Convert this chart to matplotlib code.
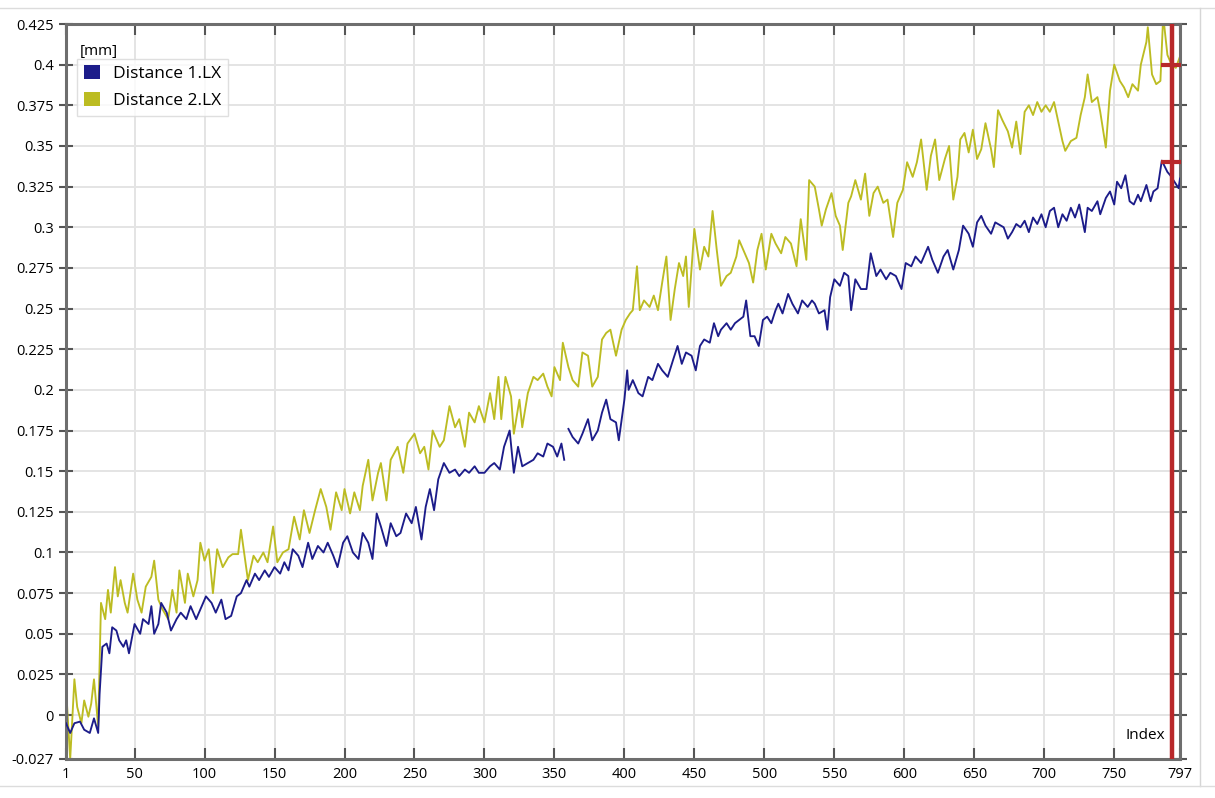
import numpy as np
import matplotlib
matplotlib.use("Agg")
import matplotlib.pyplot as plt
from matplotlib.patches import Patch

# values (index, mm)
idx_2 = [1, 4, 6, 7, 9, 12, 14, 17, 19, 21, 24, 26, 29, 31, 33, 36, 38, 40, 43, 45,
         49, 52, 55, 58, 62, 64, 67, 70, 74, 77, 80, 82, 86, 88, 92, 95, 97, 100, 103, 106,
         109, 113, 117, 120, 124, 126, 131, 135, 138, 142, 145, 149, 152, 156, 160, 164, 168, 171, 175, 179,
         183, 187, 190, 194, 198, 200, 204, 207, 211, 213, 217, 220, 224, 226, 230, 233, 238, 242, 245, 250,
         254, 257, 260, 263, 268, 271, 275, 279, 282, 286, 289, 293, 296, 300, 304, 307, 310, 312, 315, 319,
         321, 325, 327, 331, 335, 338, 342, 345, 348, 350, 354, 356, 360, 363, 367, 370, 374, 377, 381, 384,
         387, 390, 394, 398, 401, 404, 406, 409, 411, 414, 418, 421, 424, 427, 430, 433, 436, 439, 442, 444,
         446, 450, 454, 457, 460, 463, 466, 469, 473, 476, 480, 482, 485, 489, 492, 495, 498, 501, 505, 508,
         512, 515, 519, 523, 526, 530, 532, 536, 539, 541, 544, 548, 551, 554, 556, 560, 562, 565, 569, 572,
         575, 578, 581, 585, 588, 592, 595, 599, 602, 606, 609, 612, 616, 619, 622, 625, 629, 632, 635, 638,
         640, 643, 646, 649, 652, 655, 658, 662, 664, 667, 670, 674, 677, 680, 683, 686, 689, 692, 695, 698,
         701, 704, 707, 710, 713, 715, 719, 723, 726, 729, 731, 734, 738, 740, 744, 747, 750, 754, 757, 760,
         763, 767, 769, 773, 774, 777, 780, 783, 785, 788, 791, 794, 797]
dist_2 = [0.017, -0.027, 0.005, 0.022, 0.005, -0.005, 0.009, -0.001, 0.007, 0.022, -0.007, 0.069, 0.059, 0.077, 0.063, 0.091, 0.073, 0.083, 0.069, 0.063,
          0.087, 0.071, 0.063, 0.079, 0.085, 0.095, 0.071, 0.065, 0.059, 0.077, 0.063, 0.089, 0.069, 0.087, 0.073, 0.083, 0.106, 0.095, 0.102, 0.075,
          0.102, 0.091, 0.097, 0.099, 0.099, 0.114, 0.083, 0.098, 0.094, 0.100, 0.094, 0.116, 0.094, 0.100, 0.102, 0.122, 0.108, 0.126, 0.112, 0.126,
          0.139, 0.128, 0.114, 0.137, 0.126, 0.139, 0.124, 0.137, 0.126, 0.141, 0.157, 0.132, 0.149, 0.155, 0.132, 0.157, 0.165, 0.149, 0.167, 0.173,
          0.161, 0.165, 0.151, 0.175, 0.165, 0.169, 0.190, 0.177, 0.182, 0.165, 0.186, 0.180, 0.190, 0.180, 0.198, 0.182, 0.208, 0.182, 0.208, 0.196,
          0.173, 0.194, 0.177, 0.198, 0.208, 0.206, 0.210, 0.202, 0.196, 0.214, 0.206, 0.229, 0.214, 0.206, 0.202, 0.223, 0.221, 0.202, 0.208, 0.231,
          0.235, 0.237, 0.221, 0.237, 0.243, 0.247, 0.249, 0.276, 0.249, 0.255, 0.251, 0.258, 0.249, 0.266, 0.282, 0.243, 0.262, 0.278, 0.270, 0.282,
          0.251, 0.299, 0.274, 0.288, 0.282, 0.310, 0.286, 0.264, 0.270, 0.272, 0.282, 0.292, 0.286, 0.278, 0.266, 0.286, 0.296, 0.274, 0.296, 0.290,
          0.284, 0.294, 0.290, 0.276, 0.305, 0.280, 0.329, 0.325, 0.311, 0.301, 0.311, 0.321, 0.307, 0.301, 0.286, 0.315, 0.319, 0.329, 0.317, 0.333,
          0.307, 0.321, 0.325, 0.315, 0.317, 0.294, 0.315, 0.323, 0.340, 0.331, 0.340, 0.354, 0.323, 0.344, 0.354, 0.329, 0.342, 0.350, 0.317, 0.331,
          0.354, 0.358, 0.346, 0.360, 0.342, 0.348, 0.364, 0.348, 0.337, 0.372, 0.366, 0.359, 0.349, 0.365, 0.345, 0.371, 0.375, 0.369, 0.377, 0.371,
          0.375, 0.371, 0.377, 0.365, 0.353, 0.347, 0.353, 0.355, 0.369, 0.380, 0.394, 0.377, 0.380, 0.371, 0.349, 0.384, 0.400, 0.390, 0.386, 0.380,
          0.388, 0.384, 0.400, 0.414, 0.423, 0.394, 0.388, 0.390, 0.430, 0.406, 0.400, 0.398, 0.405]

idx_1 = [1, 4, 7, 11, 14, 18, 21, 24, 25, 27, 30, 32, 34, 37, 39, 42, 44, 46, 50, 54,
         56, 60, 62, 64, 67, 69, 73, 76, 80, 83, 87, 90, 94, 97, 101, 105, 108, 112, 115, 119,
         123, 126, 130, 132, 136, 139, 143, 146, 150, 154, 157, 160, 163, 167, 170, 174, 177, 181, 185, 188,
         192, 195, 199, 202, 206, 210, 213, 217, 220, 223, 226, 230, 233, 237, 240, 244, 248, 251, 255, 258,
         261, 264, 267, 271, 275, 279, 282, 286, 289, 293, 296, 300, 304, 307, 311, 314, 318, 321, 324, 327,
         331, 335, 338, 342, 345, 349, 352, 355, 357, 358, 360, 363, 367, 370, 374, 377, 381, 384, 387, 390,
         394, 396, 400, 402, 403, 406, 410, 413, 417, 420, 424, 427, 431, 435, 438, 441, 444, 448, 451, 454,
         457, 461, 464, 467, 469, 473, 476, 479, 482, 485, 487, 490, 493, 496, 499, 502, 505, 508, 510, 513,
         517, 520, 524, 527, 531, 534, 536, 539, 543, 545, 547, 550, 554, 557, 560, 562, 565, 569, 573, 576,
         580, 583, 587, 590, 594, 598, 601, 605, 608, 612, 617, 620, 624, 628, 631, 635, 639, 642, 646, 649,
         652, 655, 658, 662, 665, 669, 671, 674, 677, 680, 683, 686, 689, 692, 695, 698, 701, 704, 707, 710,
         713, 716, 719, 722, 725, 729, 731, 734, 738, 740, 744, 747, 750, 752, 755, 758, 761, 764, 767, 769,
         773, 776, 778, 781, 784, 788, 790, 793, 796, 797]
dist_1 = [-0.005, -0.011, -0.005, -0.004, -0.009, -0.011, -0.002, -0.011, 0.013, 0.042, 0.044, 0.038, 0.054, 0.052, 0.046, 0.042, 0.046, 0.038, 0.056, 0.050,
          0.059, 0.056, 0.067, 0.050, 0.056, 0.069, 0.063, 0.052, 0.059, 0.063, 0.059, 0.067, 0.059, 0.065, 0.073, 0.069, 0.063, 0.071, 0.059, 0.061,
          0.073, 0.075, 0.083, 0.079, 0.087, 0.083, 0.089, 0.085, 0.091, 0.087, 0.094, 0.089, 0.102, 0.098, 0.091, 0.106, 0.096, 0.104, 0.100, 0.106,
          0.098, 0.091, 0.106, 0.110, 0.100, 0.096, 0.112, 0.106, 0.096, 0.124, 0.116, 0.104, 0.118, 0.110, 0.112, 0.124, 0.118, 0.128, 0.108, 0.128,
          0.139, 0.126, 0.145, 0.155, 0.149, 0.151, 0.147, 0.151, 0.149, 0.153, 0.149, 0.149, 0.153, 0.155, 0.151, 0.165, 0.175, 0.149, 0.165, 0.153,
          0.155, 0.157, 0.161, 0.159, 0.167, 0.165, 0.159, 0.167, 0.157, np.nan, 0.176, 0.171, 0.167, 0.173, 0.182, 0.169, 0.175, 0.186, 0.194, 0.182,
          0.180, 0.169, 0.194, 0.212, 0.200, 0.206, 0.198, 0.196, 0.208, 0.206, 0.216, 0.212, 0.208, 0.219, 0.227, 0.216, 0.223, 0.221, 0.212, 0.227,
          0.231, 0.229, 0.241, 0.233, 0.237, 0.241, 0.237, 0.241, 0.243, 0.245, 0.255, 0.233, 0.233, 0.227, 0.243, 0.245, 0.241, 0.249, 0.253, 0.247,
          0.259, 0.253, 0.247, 0.255, 0.251, 0.255, 0.253, 0.247, 0.249, 0.237, 0.257, 0.268, 0.264, 0.272, 0.270, 0.249, 0.268, 0.262, 0.262, 0.284,
          0.270, 0.274, 0.268, 0.272, 0.270, 0.262, 0.278, 0.276, 0.282, 0.278, 0.288, 0.280, 0.272, 0.282, 0.286, 0.274, 0.286, 0.301, 0.296, 0.288,
          0.303, 0.307, 0.301, 0.296, 0.303, 0.301, 0.300, 0.293, 0.297, 0.302, 0.300, 0.304, 0.297, 0.306, 0.302, 0.308, 0.300, 0.310, 0.312, 0.300,
          0.308, 0.304, 0.312, 0.306, 0.314, 0.297, 0.312, 0.310, 0.316, 0.308, 0.318, 0.322, 0.314, 0.328, 0.324, 0.332, 0.316, 0.314, 0.320, 0.316,
          0.326, 0.316, 0.322, 0.324, 0.341, 0.334, 0.332, 0.328, 0.324, 0.330]

labels = ["Distance 1.LX", "Distance 2.LX"]
x_ticks = [1, 50, 100, 150, 200, 250, 300, 350, 400, 450, 500, 550, 600, 650, 700, 750, 797]
y_ticks = [-0.027, 0, 0.025, 0.05, 0.075, 0.1, 0.125, 0.15, 0.175, 0.2, 0.225, 0.25, 0.275,
           0.3, 0.325, 0.35, 0.375, 0.4, 0.425]
y_labels = ["-0.027", "0", "0.025", "0.05", "0.075", "0.1", "0.125", "0.15", "0.175", "0.2", "0.225",
            "0.25", "0.275", "0.3", "0.325", "0.35", "0.375", "0.4", "0.425"]
cursor_idx = 791
cursor_vals = [0.340, 0.400]

blue = "#1c1c8a"
olive = "#bcbc22"
red = "#b8282a"

plt.rcParams["font.family"] = ["Open Sans", "DejaVu Sans"]

fig = plt.figure(figsize=(12.15, 7.98), dpi=100)
ax = fig.add_axes([66 / 1215, 1 - 759 / 798, (1180 - 66) / 1215, (759 - 24) / 798])

ax.plot(idx_1, dist_1, color=blue, lw=1.35, zorder=3)
ax.plot(idx_2, dist_2, color=olive, lw=1.35, zorder=2)

ax.axvline(cursor_idx, color=red, lw=3.2, zorder=5)
ax.plot([cursor_idx] * 2, cursor_vals, ls="none", marker="_", ms=16, mew=3, color=red, zorder=6)

ax.set_xlim(1, 797)
ax.set_ylim(-0.027, 0.425)
ax.set_xticks(x_ticks)
ax.set_xticklabels([str(t) for t in x_ticks])
ax.set_yticks(y_ticks)
ax.set_yticklabels(y_labels)
ax.grid(True, color="#e4e4e4", lw=1.4)
ax.set_axisbelow(True)

for s in ax.spines.values():
    s.set_color("#6e6e6e")
    s.set_linewidth(2.2)

ax.tick_params(axis="x", direction="in", length=8, width=1.5, color="#555555",
               top=True, labelsize=10.5, pad=6)
ax.tick_params(axis="y", direction="inout", length=10, width=1.5, color="#555555",
               right=True, labelsize=10.5, pad=4)

ax.text(0.0125, 0.952, "[mm]", transform=ax.transAxes, fontsize=11, va="bottom", ha="left")
ax.text(0.987, 0.022, "Index", transform=ax.transAxes, fontsize=11, va="bottom", ha="right")

handles = [Patch(facecolor=blue, edgecolor="none"), Patch(facecolor=olive, edgecolor="none")]
leg = ax.legend(handles, labels, loc="upper left", bbox_to_anchor=(0.0099, 0.953), fontsize=12.5,
                frameon=True, fancybox=False, handlelength=0.95, handleheight=0.85,
                handletextpad=0.7, borderpad=0.4, labelspacing=0.55, borderaxespad=0)
leg.get_frame().set_edgecolor("#d8d8d8")
leg.get_frame().set_linewidth(1)

# window frame bits around the plot
fig.add_artist(plt.Line2D([0, 1], [1 - 8 / 798, 1 - 8 / 798], color="#dcdcdc", lw=1))
fig.add_artist(plt.Line2D([1200 / 1215, 1200 / 1215], [1 - 786 / 798, 1 - 8 / 798], color="#d6d6d6", lw=1))
fig.add_artist(plt.Line2D([0, 1], [1 - 786 / 798, 1 - 786 / 798], color="#dcdcdc", lw=1))

fig.savefig("out.png", dpi=100)
